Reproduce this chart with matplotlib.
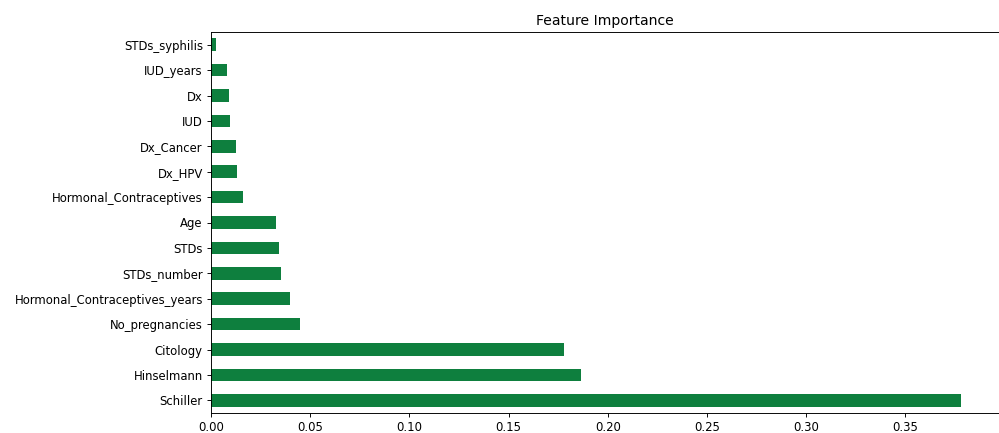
import matplotlib
matplotlib.use("Agg")
import matplotlib.pyplot as plt

# feature importances, bottom to top as drawn
features = ["Schiller", "Hinselmann", "Citology", "No_pregnancies",
            "Hormonal_Contraceptives_years", "STDs_number", "STDs", "Age",
            "Hormonal_Contraceptives", "Dx_HPV", "Dx_Cancer", "IUD", "Dx",
            "IUD_years", "STDs_syphilis"]
importance = [0.378, 0.1866, 0.1778, 0.0451,
              0.0399, 0.0352, 0.0345, 0.0329,
              0.0159, 0.0131, 0.0126, 0.0094, 0.0091,
              0.0080, 0.0025]

dpi = 84
fig = plt.figure(figsize=(999 / dpi, 433 / dpi), dpi=dpi)
ax = fig.add_axes([211 / 999, 20 / 433, (998.5 - 211) / 999, (413 - 32) / 433])

ax.barh(range(len(features)), importance, height=0.5, color="#0e7f3e")
ax.set_yticks(range(len(features)))
ax.set_yticklabels(features)
ax.set_ylim(-0.5, len(features) - 0.5)
ax.set_xlim(0, max(importance) * 1.05)
ax.set_title("Feature Importance")

plt.savefig("out.png", dpi=dpi)
